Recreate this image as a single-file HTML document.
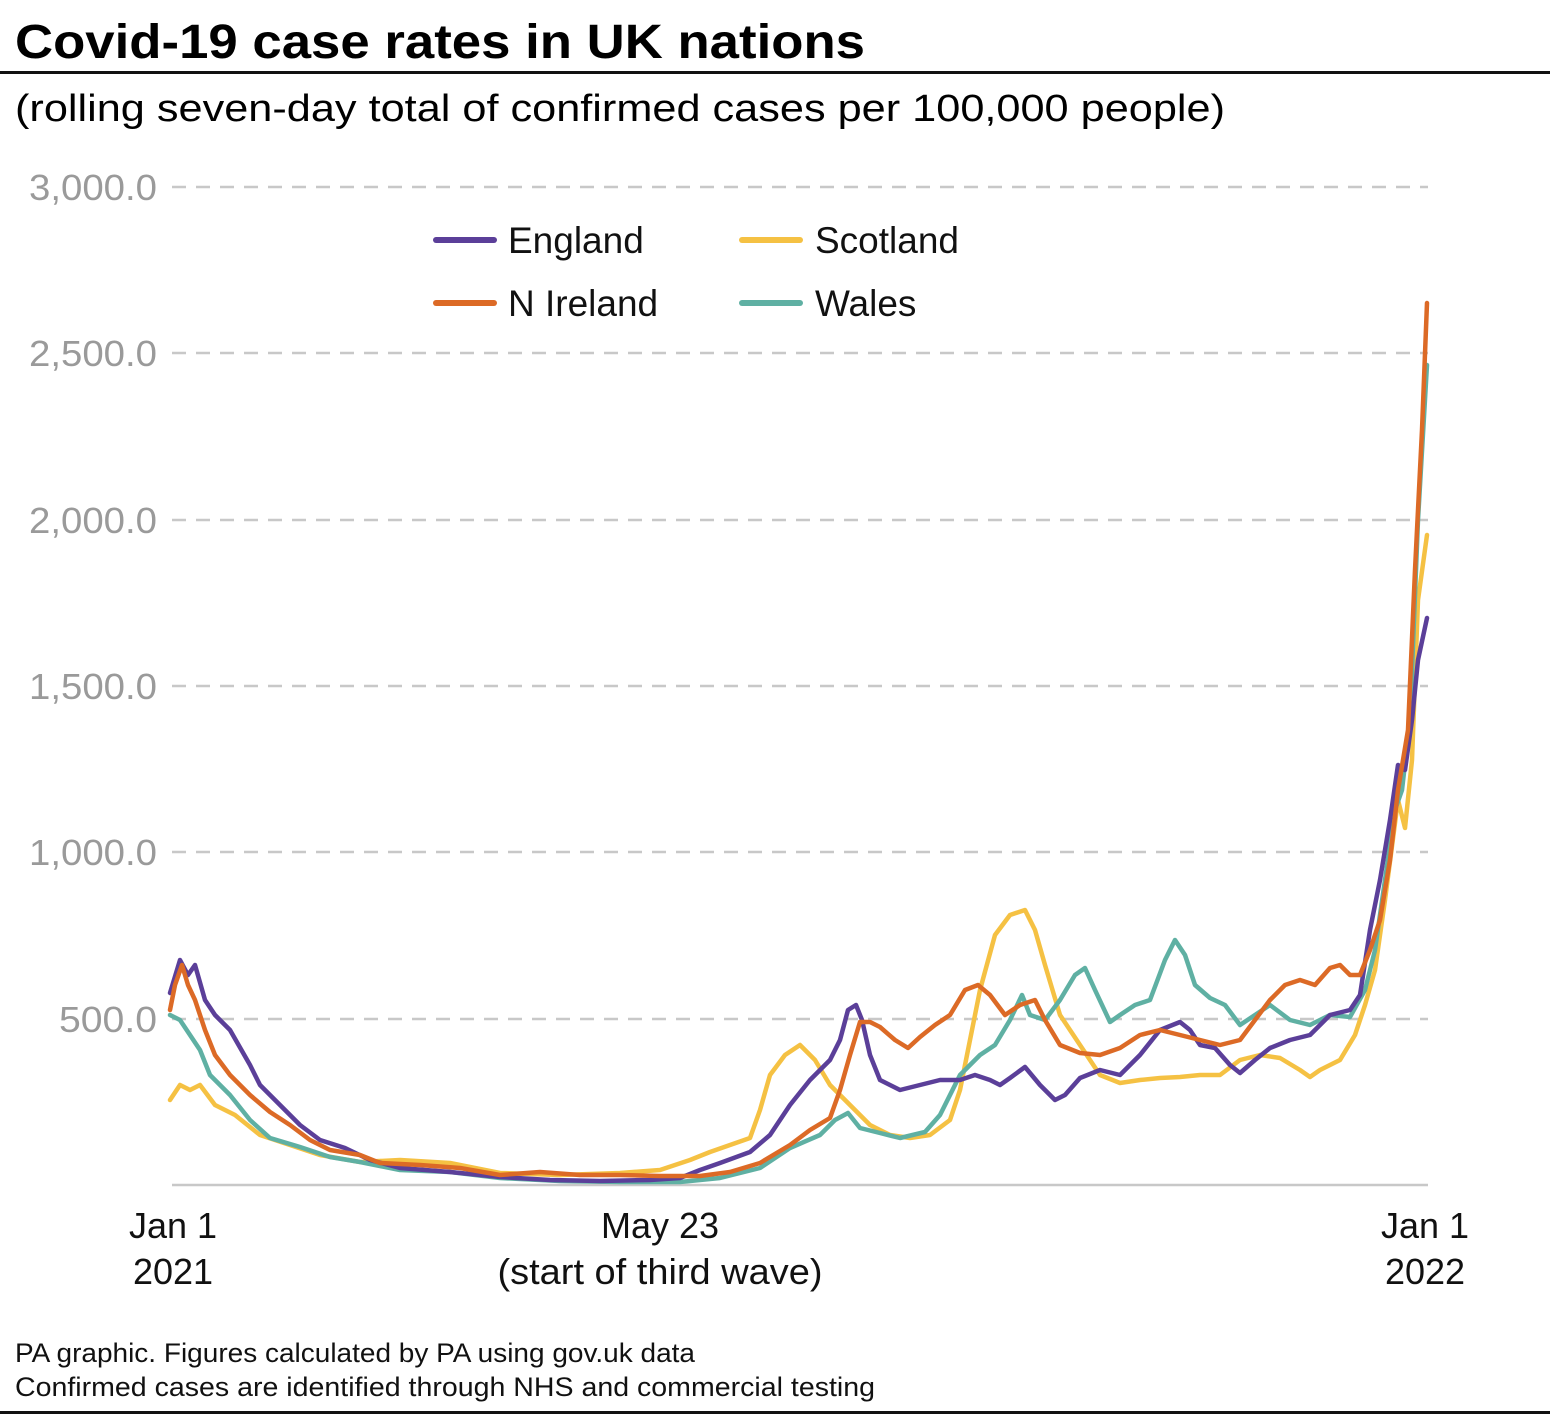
<!DOCTYPE html>
<html><head><meta charset="utf-8"><style>html,body{margin:0;padding:0;background:#fff}svg{display:block}</style></head>
<body>
<svg width="1550" height="1420" viewBox="0 0 1550 1420" xmlns="http://www.w3.org/2000/svg" font-family="Liberation Sans, sans-serif">
<text x="15" y="58" font-size="48" font-weight="bold" textLength="850" lengthAdjust="spacingAndGlyphs">Covid-19 case rates in UK nations</text>
<rect x="0" y="71" width="1550" height="3" fill="#111"/>
<text x="15" y="121" font-size="38" textLength="1210" lengthAdjust="spacingAndGlyphs">(rolling seven-day total of confirmed cases per 100,000 people)</text>
<g stroke="#c8c8c8" stroke-width="2.5" stroke-dasharray="14 10">
<line x1="172" y1="187" x2="1428" y2="187"/>
<line x1="172" y1="353" x2="1428" y2="353"/>
<line x1="172" y1="520" x2="1428" y2="520"/>
<line x1="172" y1="686" x2="1428" y2="686"/>
<line x1="172" y1="852" x2="1428" y2="852"/>
<line x1="172" y1="1019" x2="1428" y2="1019"/>
</g>
<line x1="172" y1="1185" x2="1428" y2="1185" stroke="#c8c8c8" stroke-width="2.5"/>
<g font-size="36" fill="#9a9a9a" text-anchor="end">
<text x="157" y="200" textLength="128" lengthAdjust="spacingAndGlyphs">3,000.0</text>
<text x="157" y="366" textLength="128" lengthAdjust="spacingAndGlyphs">2,500.0</text>
<text x="157" y="533" textLength="128" lengthAdjust="spacingAndGlyphs">2,000.0</text>
<text x="157" y="699" textLength="128" lengthAdjust="spacingAndGlyphs">1,500.0</text>
<text x="157" y="865" textLength="128" lengthAdjust="spacingAndGlyphs">1,000.0</text>
<text x="157" y="1032" textLength="98" lengthAdjust="spacingAndGlyphs">500.0</text>
</g>
<g font-size="36" fill="#111" text-anchor="middle">
<text x="173" y="1238">Jan 1</text><text x="173" y="1284">2021</text>
<text x="660" y="1238">May 23</text><text x="660" y="1284" textLength="325" lengthAdjust="spacingAndGlyphs">(start of third wave)</text>
<text x="1425" y="1238">Jan 1</text><text x="1425" y="1284">2022</text>
</g>
<g stroke-width="6" stroke-linecap="round">
<line x1="436" y1="240" x2="494" y2="240" stroke="#5b3f99"/>
<line x1="742" y1="240" x2="800" y2="240" stroke="#f5c143"/>
<line x1="436" y1="303" x2="494" y2="303" stroke="#dc6a26"/>
<line x1="742" y1="303" x2="800" y2="303" stroke="#5fb0a3"/>
</g>
<g font-size="37" fill="#111">
<text x="508" y="253">England</text><text x="815" y="253">Scotland</text>
<text x="508" y="316">N Ireland</text><text x="815" y="316">Wales</text>
</g>
<g fill="none" stroke-width="4.5" stroke-linejoin="round" stroke-linecap="round">
<polyline stroke="#f5c143" points="170,1100 180,1085 190,1090 200,1085 215,1105 235,1115 260,1135 290,1145 320,1155 360,1162 400,1160 450,1163 500,1173 560,1175 620,1173 660,1170 690,1160 710,1152 730,1145 750,1138 760,1110 770,1075 785,1055 800,1045 815,1060 830,1085 850,1105 870,1125 890,1135 910,1138 930,1135 950,1120 960,1090 970,1040 980,990 995,935 1010,915 1025,910 1035,930 1045,965 1060,1015 1080,1045 1100,1075 1120,1083 1140,1080 1160,1078 1180,1077 1200,1075 1220,1075 1240,1060 1260,1055 1280,1058 1300,1070 1310,1077 1320,1070 1340,1060 1355,1035 1365,1005 1375,970 1385,900 1398,800 1405,828 1412,760 1418,600 1427,535"/>
<polyline stroke="#5fb0a3" points="170,1015 180,1020 190,1035 200,1050 210,1075 230,1095 250,1120 270,1138 300,1147 330,1157 360,1162 400,1170 450,1172 500,1178 560,1181 620,1182 680,1182 720,1178 760,1168 790,1148 820,1135 835,1120 848,1113 860,1128 880,1133 900,1138 925,1132 940,1115 960,1075 980,1055 995,1045 1010,1020 1022,995 1030,1015 1045,1020 1060,1000 1075,975 1085,968 1095,990 1110,1022 1120,1015 1135,1005 1150,1000 1165,960 1175,940 1185,955 1195,985 1210,998 1225,1005 1240,1025 1255,1015 1270,1005 1290,1020 1310,1025 1330,1015 1350,1017 1365,990 1375,950 1385,880 1395,810 1402,790 1410,720 1418,520 1427,365"/>
<polyline stroke="#5b3f99" points="170,993 180,960 188,975 195,965 205,1000 215,1015 230,1030 250,1065 260,1085 280,1105 300,1125 320,1140 345,1148 370,1160 400,1168 450,1172 500,1177 550,1180 600,1181 650,1180 680,1178 700,1170 720,1163 750,1152 770,1135 790,1105 810,1080 830,1060 840,1040 848,1010 856,1005 862,1020 870,1055 880,1080 900,1090 920,1085 940,1080 960,1080 975,1075 990,1080 1000,1085 1010,1078 1025,1067 1040,1085 1055,1100 1065,1095 1080,1078 1100,1070 1120,1075 1140,1055 1160,1030 1180,1022 1190,1030 1200,1045 1215,1048 1230,1065 1240,1073 1255,1060 1270,1048 1290,1040 1310,1035 1330,1015 1350,1010 1360,995 1370,930 1380,880 1390,820 1398,765 1405,770 1412,720 1418,660 1427,618"/>
<polyline stroke="#dc6a26" points="170,1010 175,985 182,965 188,985 195,1000 205,1030 215,1055 230,1075 250,1095 270,1112 290,1125 310,1140 330,1150 360,1155 380,1163 420,1165 460,1168 500,1175 540,1172 580,1175 620,1175 660,1176 700,1176 730,1172 760,1163 790,1145 810,1130 830,1118 840,1090 850,1055 860,1022 870,1022 880,1027 895,1040 908,1048 920,1037 935,1025 950,1015 965,990 978,985 990,995 1005,1015 1020,1005 1035,1000 1045,1020 1060,1045 1080,1053 1100,1055 1120,1048 1140,1035 1160,1030 1180,1035 1200,1040 1220,1045 1240,1040 1255,1020 1270,1000 1285,985 1300,980 1315,985 1330,968 1340,965 1350,975 1360,975 1370,950 1380,920 1390,860 1398,790 1408,730 1415,570 1422,430 1427,303"/>
</g>
<g font-size="27" fill="#111">
<text x="15" y="1362" textLength="680" lengthAdjust="spacingAndGlyphs">PA graphic. Figures calculated by PA using gov.uk data</text>
<text x="15" y="1396" textLength="860" lengthAdjust="spacingAndGlyphs">Confirmed cases are identified through NHS and commercial testing</text>
</g>
<rect x="0" y="1411" width="1550" height="3" fill="#111"/>
</svg>
</body></html>
